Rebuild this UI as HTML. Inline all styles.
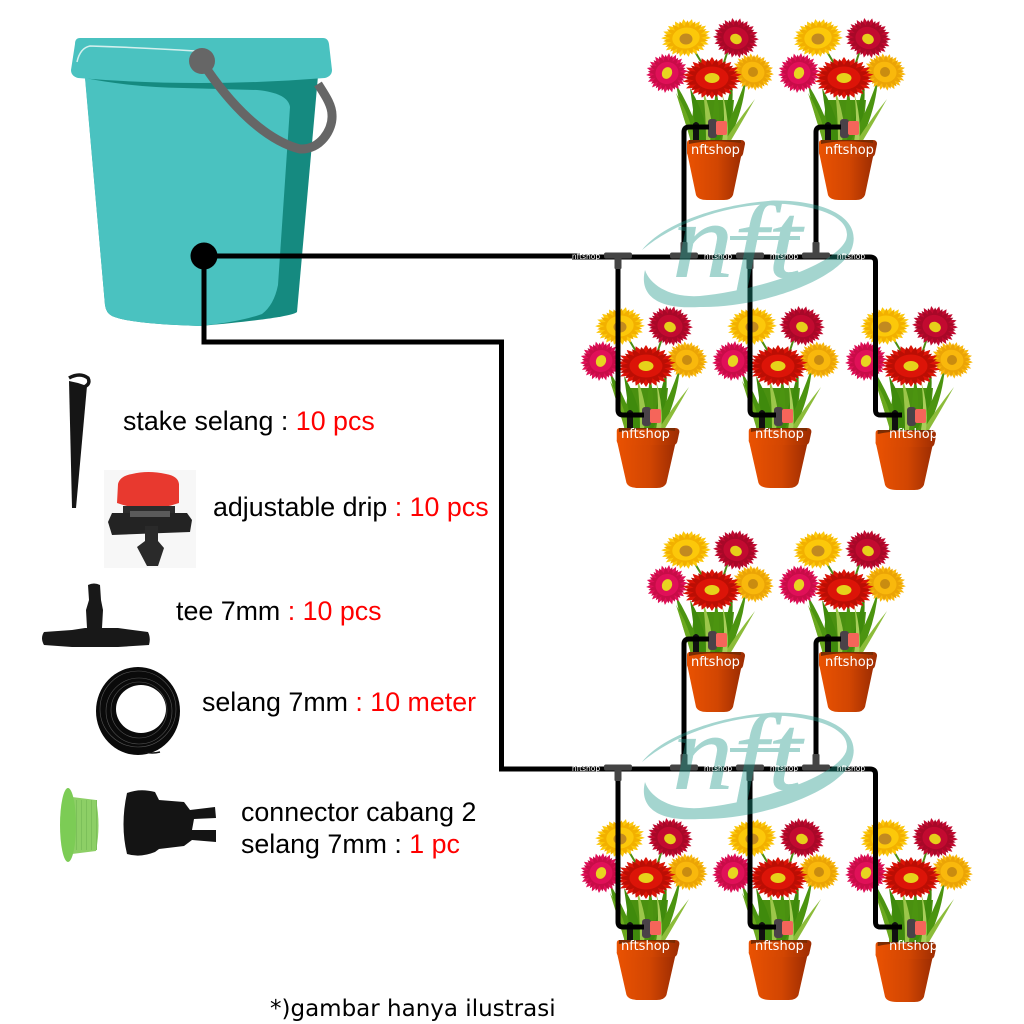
<!DOCTYPE html>
<html><head><meta charset="utf-8"><style>
html,body{margin:0;padding:0;background:#fff}
svg{display:block}
.t{font-family:"Liberation Sans",sans-serif;font-size:26.8px;fill:#000}
.r{fill:#f00}
.w{font-family:"DejaVu Sans",sans-serif;font-size:13px;fill:#fff}
.m{font-family:"DejaVu Sans",sans-serif;font-size:7.5px;fill:#fff;text-anchor:middle}
</style></head><body>
<svg width="1024" height="1024" viewBox="0 0 1024 1024" xmlns="http://www.w3.org/2000/svg">
<defs>
<linearGradient id="pg" x1="0" x2="1" y1="0" y2="0"><stop offset="0" stop-color="#ea5202"/><stop offset=".55" stop-color="#d24602"/><stop offset="1" stop-color="#9c2c02"/></linearGradient>
<path id="p" d="M-.13 -.25 Q-.17 -.7 0 -1 Q.17 -.7 .13 -.25 L0 0Z"/>
<g id="pw">
 <use href="#p"/><use href="#p" transform="rotate(20)"/><use href="#p" transform="rotate(40)"/><use href="#p" transform="rotate(60)"/><use href="#p" transform="rotate(80)"/><use href="#p" transform="rotate(100)"/><use href="#p" transform="rotate(120)"/><use href="#p" transform="rotate(140)"/><use href="#p" transform="rotate(160)"/><use href="#p" transform="rotate(180)"/><use href="#p" transform="rotate(200)"/><use href="#p" transform="rotate(220)"/><use href="#p" transform="rotate(240)"/><use href="#p" transform="rotate(260)"/><use href="#p" transform="rotate(280)"/><use href="#p" transform="rotate(300)"/><use href="#p" transform="rotate(320)"/><use href="#p" transform="rotate(340)"/>
</g>
<g id="fw">
 <use href="#pw"/>
 <use href="#pw" fill="currentColor" transform="rotate(10) scale(.92)"/>
 <circle r=".55"/>
</g>
<g id="fl">
 <path d="M694 50 L712 80" fill="none" stroke="#4c8c10" stroke-width="2"/>
 <path d="M728 50 L720 75" fill="none" stroke="#4c8c10" stroke-width="2"/>
 <path d="M690 142 L694 100 L734 100 L730 142Z" fill="#4a9010"/>
 <g fill="#4c9410">
  <path d="M676 84 Q692 110 702 142 L692 142 Q680 110 676 84Z"/>
  <path d="M676 93 Q690 115 695 142 L691 142 Q684 118 676 93Z" fill="#6aa81e"/>
  <path d="M690 88 Q706 115 708 142 L697 142 Q694 115 690 88Z" fill="#3f8a0c"/>
  <path d="M703 90 Q713 115 713 142 L706 142 Q706 115 703 90Z" fill="#9cc64a"/>
  <path d="M716 88 Q722 115 717 142 L710 142 Q713 115 716 88Z"/>
  <path d="M732 82 Q735 112 724 142 L714 142 Q726 112 732 82Z" fill="#3f8a0c"/>
  <path d="M746 78 Q744 110 728 142 L718 142 Q736 110 746 78Z"/>
  <path d="M755 99 Q742 122 730 142 L724 142 Q738 120 755 99Z" fill="#8cbc3a"/>
  <path d="M722 92 Q730 120 727 142 L722 142 Q726 118 722 92Z" fill="#a8ce5a"/>
 </g>
 <use href="#fw" fill="#fcc80a" color="#f2b000" transform="translate(686 38) rotate(-8) scale(25 19)"/>
 <ellipse cx="686" cy="39" rx="6.500" ry="5.500" fill="#c28a20"/>
 <use href="#fw" fill="#c20a30" color="#a80828" transform="translate(736 38) rotate(12) scale(23 20)"/>
 <ellipse cx="736" cy="39" rx="6" ry="5" fill="#e6cf1a" transform="rotate(25 736 39)"/>
 <use href="#fw" fill="#e01058" color="#c80c48" transform="translate(667 73) rotate(-15) scale(21 20)"/>
 <ellipse cx="667" cy="73" rx="5" ry="6" fill="#e8d520" transform="rotate(25 667 73)"/>
 <use href="#fw" fill="#f9b80c" color="#eba406" transform="translate(753 72) rotate(15) scale(21 18.500)"/>
 <circle cx="753" cy="72" r="5" fill="#c98c10"/>
 <use href="#fw" fill="#dc1408" color="#bb0e04" transform="translate(712 78) scale(30 21)"/>
 <ellipse cx="712" cy="78" rx="7.500" ry="5" fill="#e6d21a"/>
 <path d="M693 146 L693 124 Q696 120 699 124 L699 146Z" fill="#111"/>
 <rect x="708" y="119" width="9" height="19" rx="3" fill="#4a4248"/>
 <rect x="716" y="121" width="11" height="14" rx="2" fill="#f5655a"/>
</g>
<g id="pot">
 <path d="M-28 12 L-19 55 Q-17 60 -8 60 L9 60 Q16 60 18 55 L27 12Z" fill="url(#pg)"/>
 <path d="M-28 3 Q-28 0 -25 0 L26 0 Q30 0 30 4 L28 14 Q27 17 24 17 L-25 17 Q-28 15 -28 13Z" fill="url(#pg)"/>
 <path d="M-26 4 Q-5 -1 26 3 L26 0 L-26 0Z" fill="#7a2c03"/>
</g>
<g id="tee" fill="#444">
 <rect x="-14" y="-3.500" width="28" height="6" rx="2"/>
 <rect x="-3.500" y="-1" width="7" height="14" rx="1"/>
</g>
<g id="teeu" fill="#444">
 <rect x="-14" y="-3.500" width="28" height="6" rx="2"/>
 <rect x="-3.500" y="-14" width="7" height="14" rx="1"/>
</g>
<g id="nft" opacity=".4" fill="#1e9889">
 <path d="M642 250 C670 215 750 198 790 201 C840 205 860 225 852 248 C840 280 760 308 700 307 C650 310 640 290 645 270 C650 285 670 298 700 296 C760 290 835 265 846 240 C852 222 830 208 785 204 C740 202 680 218 642 250Z"/>
 <text x="672" y="277" font-family="Liberation Serif,serif" font-style="italic" font-size="108" textLength="130" lengthAdjust="spacingAndGlyphs" stroke="#1e9889" stroke-width=".5">nft</text>
 <rect x="730" y="236" width="70" height="4"/>
</g>
<g id="sec" fill="none" stroke="#000" stroke-width="5">
 <path d="M684 257 L684 132 Q684 127 689 127 L709 127"/>
 <path d="M816 257 L816 132 Q816 127 821 127 L841 127"/>
 <path d="M618 257 L618 410 Q618 415 623 415 L644 415"/>
 <path d="M750 257 L750 410 Q750 415 755 415 L776 415"/>
 <path d="M870 257 Q875.500 257 875.500 262 L875.500 410 Q875.500 415 880 415 L902 415"/>
 <path d="M572 257 L870 257"/>
 <g stroke="none"><use href="#tee" x="618" y="256"/><use href="#teeu" x="684" y="256"/><use href="#tee" x="750" y="256"/><use href="#teeu" x="816" y="256"/></g>
</g>
<g id="plants">
 <use href="#fl"/><use href="#fl" x="132"/>
 <use href="#fl" x="-66" y="288"/><use href="#fl" x="66" y="288"/><use href="#fl" x="199" y="288"/>
 <use href="#pot" x="715" y="140"/><use href="#pot" x="847" y="140"/>
 <g transform="translate(647 428) scale(1.08 1)"><use href="#pot"/></g>
 <g transform="translate(779 428) scale(1.08 1)"><use href="#pot"/></g>
 <g transform="translate(905 430) scale(1.05 1)"><use href="#pot"/></g>
</g>
<g id="labels">
 <text class="w" x="691" y="154">nftshop</text><text class="w" x="825" y="154">nftshop</text>
 <text class="w" x="621" y="438">nftshop</text><text class="w" x="755" y="438">nftshop</text><text class="w" x="889" y="438">nftshop</text>
 <text class="m" x="586" y="259">nftshop</text><text class="m" x="718" y="259">nftshop</text><text class="m" x="784" y="259">nftshop</text><text class="m" x="851" y="259">nftshop</text>
</g>
</defs>

<rect width="1024" height="1024" fill="#fff"/>

<!-- bucket -->
<path d="M85 76 L318 76 L297 312 Q290 318 200 326 Q130 324 112 316 Q106 313 105 305Z" fill="#158a80"/>
<path d="M85 78 Q130 87 183 88 L257 90 Q288 93 290 107 L278 285 Q274 305 262 314 Q240 322 200 326 Q130 324 112 316 Q106 313 105 305Z" fill="#4ac2c0"/>
<path d="M80 38 L323 38 Q328 38 329 44 L332 70 Q332 76 325 78 Q200 88 78 78 Q71 76 71 70 L75 44 Q75 38 80 38Z" fill="#4ac2c0"/>
<path d="M77 62 Q80 48 90 46 Q150 48 195 51" fill="none" stroke="#d4f0ee" stroke-width="1.500"/>
<path d="M202 62 C230 105 265 140 300 149 C320 150 333 130 332 115 C332 105 325 95 318 84" fill="none" stroke="#666" stroke-width="9"/>
<circle cx="202" cy="61" r="13" fill="#666"/>

<!-- plants -->
<use href="#plants"/>
<use href="#plants" y="512"/>

<!-- main lines -->
<path d="M204 256 L580 256 M204 256 L204 342 L501.500 342 L501.500 769 L580 769" fill="none" stroke="#000" stroke-width="5"/>
<circle cx="204" cy="256" r="13.500" fill="#000"/>
<use href="#sec"/>
<use href="#sec" y="512"/>
<use href="#nft"/>
<use href="#nft" y="512"/>
<use href="#labels"/>
<use href="#labels" y="512"/>

<!-- stake -->
<path d="M69 381 L78 383 L87 386 L76 508 L72 508Z" fill="#151515"/>
<path d="M69 378 Q80 372 88 378 Q91 384 84 387" fill="none" stroke="#151515" stroke-width="3.500"/>

<!-- drip -->
<rect x="104" y="470" width="92" height="98" fill="#f7f7f7"/>
<path d="M118 484 Q120 476 132 474 Q148 470 166 474 Q178 476 179 484 L179 503 Q148 514 117 503Z" fill="#e8392f"/>
<rect x="123" y="506" width="52" height="8" fill="#2c2c2c"/>
<path d="M112 513 L187 513 L192 520 L190 532 L112 535 L108 522Z" fill="#232323"/>
<rect x="130" y="511" width="40" height="6" fill="#5a5a5a"/>
<path d="M145 526 L158 526 L158 541 L164 548 L158 566 L147 566 L137 547 L145 541Z" fill="#2a2a2a"/>

<!-- tee -->
<path d="M44 632 L72 630 L85 628 L87 628 L86 610 L89 600 L88 585 Q94 582 100 585 L101 600 L103 610 L102 628 L118 628 L148 632 Q151 638 149 645 L118 647 L72 647 L44 645 Q40 638 44 632Z" fill="#181818"/>

<!-- coil -->
<path fill-rule="evenodd" d="M96 711 a42 44 0 1 0 84 0 a42 44 0 1 0 -84 0Z M116 709 a25 24 0 1 1 50 0 a25 24 0 1 1 -50 0Z" fill="#0a0a0a"/>
<g fill="none" stroke="#555" stroke-width=".6"><circle cx="138" cy="709" r="38"/><circle cx="139" cy="711" r="33"/><circle cx="139" cy="710" r="28"/></g>
<path d="M145 752 Q152 754 160 752" fill="none" stroke="#111" stroke-width="1.500"/>

<!-- connector -->
<path d="M72 797 L96 800 Q101 825 96 851 L72 854Z" fill="#8dcf66"/>
<path d="M76 825 L98 825" stroke="#7cc05a" stroke-width="50" stroke-dasharray="1 4" fill="none"/>
<ellipse cx="68" cy="825" rx="8" ry="37" fill="#7ccc55"/>
<path d="M127 793 Q140 788 155 792 L159 800 L184 802 L190 810 L215 807 L216 818 L194 819 L192 830 L216 830 L216 842 L192 840 L184 846 L159 849 L155 852 Q140 858 127 854 Q120 825 127 793Z" fill="#141414"/>

<!-- text -->
<text class="t" x="123" y="430">stake selang : <tspan class="r">10 pcs</tspan></text>
<text class="t" x="213" y="516">adjustable drip <tspan class="r">: 10 pcs</tspan></text>
<text class="t" x="176" y="620">tee 7mm <tspan class="r">: 10 pcs</tspan></text>
<text class="t" x="202" y="711">selang 7mm <tspan class="r">: 10 meter</tspan></text>
<text class="t" x="241" y="821">connector cabang 2</text>
<text class="t" x="241" y="853">selang 7mm : <tspan class="r">1 pc</tspan></text>
<text x="270" y="1016" font-family="DejaVu Sans,sans-serif" font-size="23" fill="#000">*)gambar hanya ilustrasi</text>
</svg>
</body></html>
